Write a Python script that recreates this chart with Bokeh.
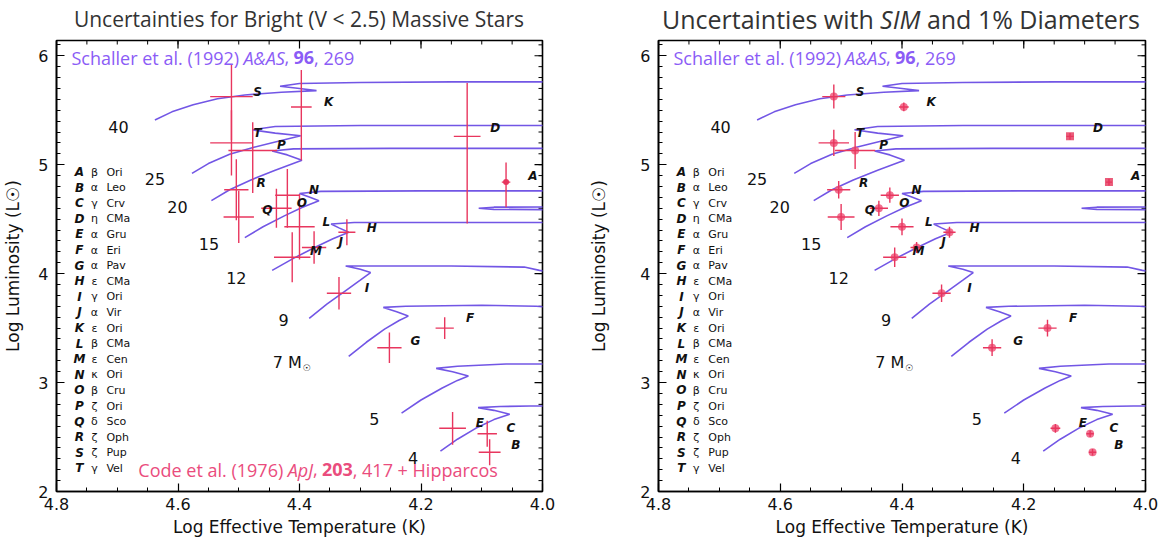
import glob
import os

from bokeh.plotting import figure
from bokeh.layouts import row, column
from bokeh.models import Range1d, FixedTicker, PrintfTickFormatter, Label
from bokeh.core.properties import value
from bokeh.embed import file_html
from bokeh.resources import INLINE

# ----------------------------------------------------------------- data
X_TICKS = [4.0, 4.2, 4.4, 4.6, 4.8]
Y_TICKS = [2, 3, 4, 5, 6]
X_TICK_FMT = "%.1f"
Y_TICK_FMT = "%d"

MASS_TEXT = ["40", "25", "20", "15", "12", "9", "7 M", "5", "4"]
MASS_LBL_LOGT = [4.698, 4.638, 4.601, 4.549, 4.504, 4.426, 4.420, 4.277, 4.213]
MASS_LBL_LOGL = [5.35, 4.87, 4.61, 4.27, 3.96, 3.57, 3.18, 2.67, 2.31]
SOLAR_SYMBOL = "\u2609"
SOLAR_AFTER = "7 M"

# Schaller et al. (1992) evolutionary tracks (log Teff, log L)
TRACK_40_T = [4.638, 4.610, 4.575, 4.535, 4.490, 4.430, 4.372, 4.400, 4.432, 4.400, 4.300, 4.150, 3.900]
TRACK_40_L = [5.410, 5.485, 5.550, 5.605, 5.640, 5.665, 5.680, 5.700, 5.720, 5.745, 5.755, 5.760, 5.760]
TRACK_25_T = [4.577, 4.550, 4.515, 4.475, 4.435, 4.398, 4.440, 4.478, 4.440, 4.300, 4.100, 3.900]
TRACK_25_L = [4.920, 5.010, 5.095, 5.160, 5.215, 5.265, 5.290, 5.320, 5.350, 5.360, 5.360, 5.360]
TRACK_20_T = [4.545, 4.515, 4.480, 4.440, 4.396, 4.420, 4.445, 4.410, 4.250, 4.050, 3.900]
TRACK_20_L = [4.670, 4.770, 4.860, 4.950, 5.040, 5.090, 5.125, 5.145, 5.150, 5.150, 5.150]
TRACK_15_T = [4.490, 4.460, 4.425, 4.395, 4.368, 4.385, 4.400, 4.365, 4.200, 4.000, 3.900]
TRACK_15_L = [4.330, 4.430, 4.530, 4.610, 4.670, 4.705, 4.735, 4.755, 4.760, 4.760, 4.760]
TRACK_12_T = [4.445, 4.410, 4.375, 4.345, 4.319, 4.335, 4.348, 4.310, 4.150, 3.900, 3.900, 4.080, 4.105, 4.080, 3.900]
TRACK_12_L = [4.030, 4.140, 4.240, 4.320, 4.380, 4.420, 4.455, 4.470, 4.470, 4.470, 4.585, 4.590, 4.600, 4.610, 4.615]
TRACK_9_T = [4.384, 4.355, 4.325, 4.300, 4.283, 4.300, 4.324, 4.290, 4.150, 4.030, 4.005, 3.950]
TRACK_9_L = [3.590, 3.720, 3.840, 3.940, 4.010, 4.040, 4.070, 4.070, 4.070, 4.060, 4.030, 3.980]
TRACK_7_T = [4.319, 4.290, 4.260, 4.236, 4.221, 4.240, 4.262, 4.225, 4.100, 4.010, 3.950]
TRACK_7_L = [3.240, 3.370, 3.490, 3.570, 3.610, 3.650, 3.690, 3.700, 3.710, 3.700, 3.680]
TRACK_5_T = [4.232, 4.200, 4.165, 4.140, 4.122, 4.148, 4.175, 4.140, 4.060, 4.000, 3.950]
TRACK_5_L = [2.720, 2.840, 2.950, 3.020, 3.060, 3.100, 3.130, 3.150, 3.170, 3.170, 3.170]
TRACK_4_T = [4.168, 4.140, 4.110, 4.080, 4.054, 4.080, 4.106, 4.070, 4.020, 3.950]
TRACK_4_L = [2.370, 2.480, 2.580, 2.660, 2.710, 2.745, 2.770, 2.780, 2.785, 2.785]

TRACKS = [(TRACK_40_T, TRACK_40_L), (TRACK_25_T, TRACK_25_L), (TRACK_20_T, TRACK_20_L),
          (TRACK_15_T, TRACK_15_L), (TRACK_12_T, TRACK_12_L), (TRACK_9_T, TRACK_9_L),
          (TRACK_7_T, TRACK_7_L), (TRACK_5_T, TRACK_5_L), (TRACK_4_T, TRACK_4_L)]

STARS = ["A", "B", "C", "D", "E", "F", "G", "H", "I", "J",
         "K", "L", "M", "N", "O", "P", "Q", "R", "S", "T"]
GREEK = ["\u03b2", "\u03b1", "\u03b3", "\u03b7", "\u03b1", "\u03b1", "\u03b1", "\u03b5", "\u03b3", "\u03b1",
         "\u03b5", "\u03b2", "\u03b5", "\u03ba", "\u03b2", "\u03b6", "\u03b4", "\u03b6", "\u03b6", "\u03b3"]
CONSTELLATION = ["Ori", "Leo", "Crv", "CMa", "Gru", "Eri", "Pav", "CMa", "Ori", "Vir",
                 "Ori", "CMa", "Cen", "Ori", "Cru", "Ori", "Sco", "Oph", "Pup", "Vel"]
STAR_LOGT = [4.060, 4.087, 4.091, 4.124, 4.148, 4.161, 4.252, 4.322, 4.335, 4.376,
             4.397, 4.400, 4.412, 4.420, 4.438, 4.477, 4.500, 4.504, 4.512, 4.512]
STAR_LOGL = [4.84, 2.36, 2.53, 5.26, 2.58, 3.50, 3.32, 4.38, 3.82, 4.24,
             5.53, 4.43, 4.15, 4.72, 4.60, 5.13, 4.52, 4.77, 5.625, 5.20]
LABEL_LOGT = [4.016, 4.044, 4.052, 4.078, 4.103, 4.119, 4.209, 4.281, 4.289, 4.332,
              4.352, 4.356, 4.373, 4.376, 4.396, 4.430, 4.453, 4.463, 4.469, 4.469]
LABEL_LOGL = [4.90, 2.43, 2.58, 5.34, 2.63, 3.59, 3.38, 4.42, 3.87, 4.29,
              5.58, 4.47, 4.21, 4.77, 4.65, 5.18, 4.58, 4.83, 5.67, 5.29]

# Code et al. (1976) + Hipparcos uncertainties (left panel)
ERRT_CODE = [0.007, 0.018, 0.016, 0.022, 0.022, 0.015, 0.020, 0.014, 0.020, 0.020,
             0.017, 0.025, 0.030, 0.020, 0.025, 0.040, 0.025, 0.020, 0.035, 0.035]
ERRL_UP_CODE = [0.18, 0.12, 0.12, 0.49, 0.15, 0.10, 0.14, 0.12, 0.15, 0.15,
                0.34, 0.30, 0.23, 0.24, 0.18, 0.26, 0.24, 0.28, 0.30, 0.30]
ERRL_DN_CODE = [0.23, 0.12, 0.12, 0.80, 0.15, 0.10, 0.14, 0.12, 0.15, 0.15,
                0.49, 0.30, 0.23, 0.30, 0.18, 0.39, 0.24, 0.28, 0.40, 0.30]
DOT_CODE = ["A"]

# SIM + 1% diameters uncertainties (right panel)
ERRT_SIM = [0.005, 0.006, 0.006, 0.006, 0.008, 0.015, 0.015, 0.010, 0.015, 0.010,
            0.008, 0.019, 0.019, 0.015, 0.015, 0.033, 0.022, 0.019, 0.019, 0.025]
ERRL_SIM = [0.03, 0.03, 0.03, 0.03, 0.04, 0.077, 0.077, 0.05, 0.08, 0.05,
            0.04, 0.077, 0.09, 0.07, 0.07, 0.17, 0.12, 0.08, 0.11, 0.12]
SQUARE_STARS = ["A", "D"]

TITLES = [[("Uncertainties for Bright (V < 2.5) Massive Stars", "normal")],
          [("Uncertainties with ", "normal"), ("SIM", "italic"), (" and 1% Diameters", "normal")]]
SCHALLER_REF = [("Schaller et al. (1992) ", "normal"), ("A&AS", "italic"), (", ", "normal"),
                ("96", "bold"), (", 269", "normal")]
CODE_REF = [("Code et al. (1976) ", "normal"), ("ApJ", "italic"), (", ", "normal"),
            ("203", "bold"), (", 417 + Hipparcos", "normal")]
X_LABEL = "Log Effective Temperature (K)"
Y_LABEL = "Log Luminosity (L\u2609)"

# ----------------------------------------------------------------- style / geometry
AX_FONT = "DejaVu Sans"
TXT_FONT = "Open Sans"
TRACK_COLOR = "#6a4de4"
ERR_COLOR = "#e8365e"
SCHALLER_COLOR = "#8b5cf6"
CODE_COLOR = "#ea4c7d"
TITLE_COLOR = "#333333"
TITLE_SIZES = [21, 25]

PAGE_W, PAGE_H = 1162, 550
TITLE_H = 34
FR_TOP, FR_BOT = 40, 491
FIG_W = [586, 576]
OFFS = [0, 586]
FRAMES = [(55, 542), (656, 1145)]
X_LEFT, X_RIGHT = 4.8, 4.0
Y_BOT, Y_TOP = 2.0, 6.14
X_MINOR_STEP = 0.05
Y_MINOR_STEP = 0.1


def dx(k, px):
    fl, fr = FRAMES[k]
    return X_LEFT + (px - fl) / (fr - fl) * (X_RIGHT - X_LEFT)


def dy(py):
    return Y_BOT + (FR_BOT - py) / (FR_BOT - FR_TOP) * (Y_TOP - Y_BOT)


# ----------------------------------------------------------------- text measuring
FONT_DIRS = ["/usr/share/fonts", "/usr/local/share/fonts",
             os.path.expanduser("~/.local/share/fonts"), os.path.expanduser("~/.fonts")]
_files = None
_cache = {}


def _open_sans_files():
    global _files
    if _files is None:
        out = []
        for root in FONT_DIRS:
            try:
                out += glob.glob(os.path.join(root, "**", "OpenSans*.ttf"), recursive=True)
            except Exception:
                pass
        _files = sorted(out)
    return _files


def _pil_font(style, size):
    key = (style, size)
    if key in _cache:
        return _cache[key]
    f = None
    exact = False
    try:
        from PIL import ImageFont
        files = _open_sans_files()
        bases = [(os.path.basename(p), p) for p in files]
        path = None
        if style == "bold":
            for b, p in bases:
                if b.startswith("OpenSans-Bold."):
                    path, exact = p, True
        elif style == "italic":
            for b, p in bases:
                if b.startswith("OpenSans-Italic"):
                    path, exact = p, True
        if path is None:
            for b, p in bases:
                if b.startswith("OpenSans-Regular.") or (b.startswith("OpenSans[") and path is None):
                    path = p
            if style == "normal":
                exact = True
        if path is None and files:
            path = files[0]
        if path:
            f = ImageFont.truetype(path, size)
            if "[" in os.path.basename(path):
                try:
                    vals = []
                    for a in f.get_variation_axes():
                        nm = a.get("name", b"")
                        nm = nm.decode() if isinstance(nm, bytes) else str(nm)
                        if "eight" in nm:
                            vals.append(700 if style == "bold" else 400)
                        elif "idth" in nm:
                            vals.append(100)
                        else:
                            vals.append(a.get("default", a.get("minimum", 0)))
                    f.set_variation_by_axes(vals)
                    if style == "bold":
                        exact = True
                except Exception:
                    pass
    except Exception:
        f = None
    _cache[key] = (f, exact)
    return _cache[key]


def text_width(t, size, style):
    f, exact = _pil_font(style, size)
    if f is not None:
        try:
            w = f.getlength(t)
            if not exact and style == "bold":
                w *= 1.07
            return w
        except Exception:
            pass
    w = 0.0
    for ch in t:
        if ch == " ":
            w += 0.26
        elif ch in "il.,:;|!'":
            w += 0.27
        elif ch in "fjrt()[]":
            w += 0.36
        elif ch.isupper():
            w += 0.65
        elif ch.isdigit():
            w += 0.57
        elif ch in "mw":
            w += 0.85
        else:
            w += 0.55
    w *= size
    if style == "bold":
        w *= 1.07
    return w


def add_rich(p, to_x, to_y, pieces, px, py, size, color, align="left"):
    widths = [text_width(t, size, st) for t, st in pieces]
    x0 = px - sum(widths) / 2.0 if align == "center" else px
    for (t, st), w in zip(pieces, widths):
        stripped = t.lstrip(" ")
        lead = text_width(t[:len(t) - len(stripped)], size, st) if stripped != t else 0.0
        txt = stripped.rstrip(" ")
        if txt:
            p.add_layout(Label(x=to_x(x0 + lead), y=to_y(py), x_units="data", y_units="data",
                               text=txt, text_font=TXT_FONT, text_font_size="%dpx" % size,
                               text_font_style=st, text_color=color,
                               text_align="left", text_baseline="middle"))
        x0 += w


# ----------------------------------------------------------------- panels
def style_axis(ax, ticks, minor, fmt):
    ax.ticker = FixedTicker(ticks=ticks, minor_ticks=minor)
    ax.formatter = PrintfTickFormatter(format=fmt)
    ax.axis_line_color = "black"
    ax.axis_line_width = 1.6
    ax.major_tick_in = 8
    ax.major_tick_out = 0
    ax.minor_tick_in = 4
    ax.minor_tick_out = 0
    ax.major_tick_line_color = "black"
    ax.minor_tick_line_color = "black"
    ax.major_tick_line_width = 1.2
    ax.minor_tick_line_width = 1.0
    ax.major_label_text_font = AX_FONT
    ax.major_label_text_color = "#111111"
    ax.major_label_text_font_size = "16px"
    ax.axis_label_text_font = AX_FONT
    ax.axis_label_text_font_style = "normal"
    ax.axis_label_text_font_size = "17px"
    ax.axis_label_text_color = "#111111"


def make_title(k):
    w = FIG_W[k]
    t = figure(width=w, height=TITLE_H, x_range=Range1d(0, w), y_range=Range1d(0, TITLE_H),
               output_backend="svg", toolbar_location=None, tools="",
               x_axis_type=None, y_axis_type=None,
               min_border_left=0, min_border_right=0, min_border_top=0, min_border_bottom=0)
    t.outline_line_color = None
    t.grid.grid_line_color = None
    t.background_fill_color = "white"
    t.border_fill_color = "white"
    fl, fr = FRAMES[k]
    add_rich(t, lambda px: px - OFFS[k], lambda py: TITLE_H - py,
             TITLES[k], (fl + fr) / 2.0, 18, TITLE_SIZES[k], TITLE_COLOR, align="center")
    return t


def make_panel(k):
    fl, fr = FRAMES[k]
    x_minor = [round(X_RIGHT + X_MINOR_STEP * i, 3) for i in range(int(round((X_LEFT - X_RIGHT) / X_MINOR_STEP)) + 1)]
    y_minor = [round(Y_BOT + Y_MINOR_STEP * i, 3) for i in range(int((Y_TOP - Y_BOT) / Y_MINOR_STEP) + 1)]

    p = figure(width=FIG_W[k], height=PAGE_H - TITLE_H,
               x_range=Range1d(X_LEFT, X_RIGHT), y_range=Range1d(Y_BOT, Y_TOP),
               output_backend="svg", toolbar_location=None, tools="",
               min_border_left=fl - OFFS[k], min_border_right=OFFS[k] + FIG_W[k] - fr,
               min_border_top=FR_TOP - TITLE_H, min_border_bottom=PAGE_H - FR_BOT)
    p.background_fill_color = "white"
    p.border_fill_color = "white"
    p.outline_line_color = "black"
    p.outline_line_width = 1.6
    p.xgrid.grid_line_color = None
    p.ygrid.grid_line_color = None

    xb = p.below[0]
    yl = p.left[0]
    style_axis(xb, X_TICKS, x_minor, X_TICK_FMT)
    style_axis(yl, Y_TICKS, y_minor, Y_TICK_FMT)
    xb.axis_label = X_LABEL
    yl.axis_label = Y_LABEL
    xb.major_label_standoff = 6
    xb.axis_label_standoff = 4
    yl.major_label_standoff = 8
    yl.axis_label_standoff = 12 if k == 0 else 28

    # mirrored inward ticks on the top and right sides of the box
    ppy = (Y_TOP - Y_BOT) / (FR_BOT - FR_TOP)
    ppx = (X_LEFT - X_RIGHT) / (fr - fl)
    p.segment(x0=X_TICKS, x1=X_TICKS, y0=[Y_TOP] * len(X_TICKS), y1=[Y_TOP - 8 * ppy] * len(X_TICKS),
              line_color="black", line_width=1.2)
    p.segment(x0=x_minor, x1=x_minor, y0=[Y_TOP] * len(x_minor), y1=[Y_TOP - 4 * ppy] * len(x_minor),
              line_color="black", line_width=1.0)
    p.segment(x0=[X_RIGHT] * len(Y_TICKS), x1=[X_RIGHT + 8 * ppx] * len(Y_TICKS), y0=Y_TICKS, y1=Y_TICKS,
              line_color="black", line_width=1.2)
    p.segment(x0=[X_RIGHT] * len(y_minor), x1=[X_RIGHT + 4 * ppx] * len(y_minor), y0=y_minor, y1=y_minor,
              line_color="black", line_width=1.0)

    # evolutionary tracks
    for tt, ll in TRACKS:
        p.line(tt, ll, line_color=TRACK_COLOR, line_width=1.6, line_alpha=0.95)

    # error bars
    if k == 0:
        errt, eup, edn = ERRT_CODE, ERRL_UP_CODE, ERRL_DN_CODE
    else:
        errt, eup, edn = ERRT_SIM, ERRL_SIM, ERRL_SIM

    if k == 1:
        circ = [i for i, s in enumerate(STARS) if s not in SQUARE_STARS]
        sq = [i for i, s in enumerate(STARS) if s in SQUARE_STARS]
        p.scatter([STAR_LOGT[i] for i in circ], [STAR_LOGL[i] for i in circ], marker="circle",
                  size=8, fill_color="#f0587c", fill_alpha=0.85, line_color=None)
        p.scatter([STAR_LOGT[i] for i in sq], [STAR_LOGL[i] for i in sq], marker="square",
                  size=8, fill_color="#e84a6c", fill_alpha=0.9, line_color=None)
    else:
        dots = [i for i, s in enumerate(STARS) if s in DOT_CODE]
        p.scatter([STAR_LOGT[i] for i in dots], [STAR_LOGL[i] for i in dots], marker="circle",
                  size=6, fill_color=ERR_COLOR, line_color=None)

    p.segment(x0=[t - e for t, e in zip(STAR_LOGT, errt)], x1=[t + e for t, e in zip(STAR_LOGT, errt)],
              y0=STAR_LOGL, y1=STAR_LOGL, line_color=ERR_COLOR, line_width=1.4)
    p.segment(x0=STAR_LOGT, x1=STAR_LOGT,
              y0=[l - e for l, e in zip(STAR_LOGL, edn)], y1=[l + e for l, e in zip(STAR_LOGL, eup)],
              line_color=ERR_COLOR, line_width=1.4)

    # star letters
    p.text(x=LABEL_LOGT, y=LABEL_LOGL, text=STARS, text_font=value(AX_FONT),
           text_font_size="12px", text_font_style="bold italic", text_color="#111111",
           text_align="center", text_baseline="middle")

    # mass labels (with a subscript solar symbol after the "7 M" label)
    p.text(x=MASS_LBL_LOGT, y=MASS_LBL_LOGL, text=MASS_TEXT, text_font=value(AX_FONT),
           text_font_size="16px", text_color="#111111",
           text_align="center", text_baseline="middle")
    i7 = MASS_TEXT.index(SOLAR_AFTER)
    ppx_sign = (X_RIGHT - X_LEFT) / (fr - fl)
    sun_x = MASS_LBL_LOGT[i7] + 15.5 * ppx_sign
    sun_y = MASS_LBL_LOGL[i7] - 5 * ppy
    p.text(x=[sun_x], y=[sun_y], text=[SOLAR_SYMBOL], text_font=value(AX_FONT),
           text_font_size="9px", text_color="#111111",
           text_align="left", text_baseline="middle")

    # star legend (names)
    rows_y = [dy(171.5 + 15.6 * i) for i in range(len(STARS))]
    p.text(x=[dx(k, fl + 23)] * len(STARS), y=rows_y, text=STARS, text_font=value(AX_FONT),
           text_font_size="12px", text_font_style="bold italic", text_color="#111111",
           text_align="center", text_baseline="middle")
    p.text(x=[dx(k, fl + 38)] * len(STARS), y=rows_y, text=GREEK, text_font=value(AX_FONT),
           text_font_size="11px", text_color="#111111",
           text_align="center", text_baseline="middle")
    p.text(x=[dx(k, fl + 50)] * len(STARS), y=rows_y, text=CONSTELLATION, text_font=value(AX_FONT),
           text_font_size="11px", text_color="#111111",
           text_align="left", text_baseline="middle")

    # references
    to_x = lambda px: dx(k, px)
    add_rich(p, to_x, dy, SCHALLER_REF, fl + 15, 57, 18, SCHALLER_COLOR)
    if k == 0:
        add_rich(p, to_x, dy, CODE_REF, 137, 469, 18, CODE_COLOR)
    return p


layout = column(row(make_title(0), make_title(1)), row(make_panel(0), make_panel(1)))

open("out.html", "w").write(file_html(layout, INLINE))
